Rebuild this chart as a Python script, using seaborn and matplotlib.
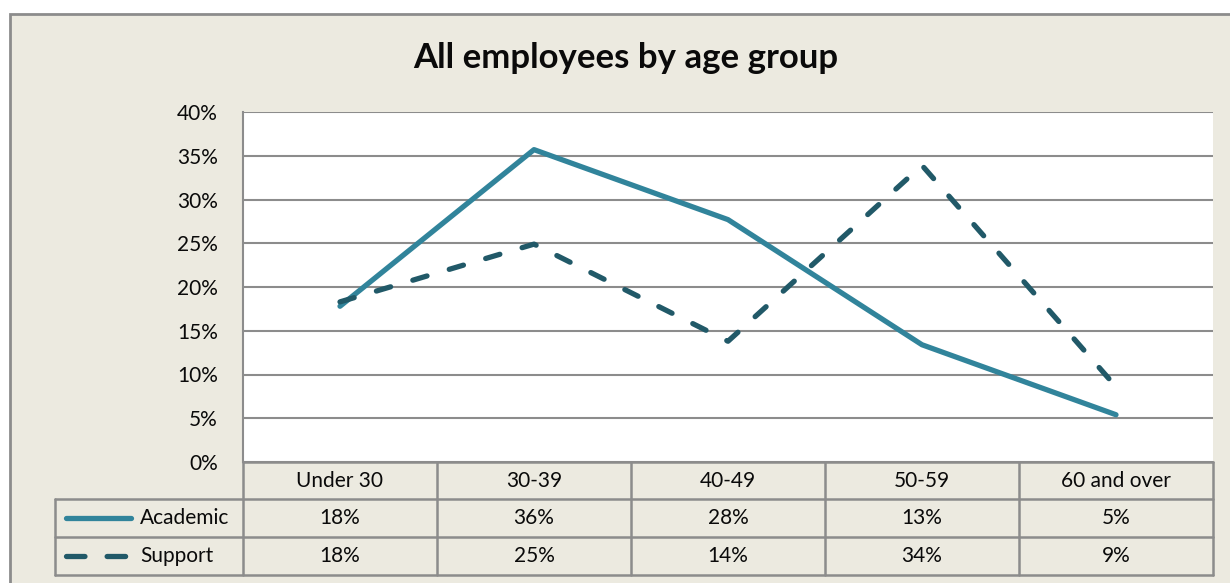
import pandas as pd
import matplotlib.pyplot as plt
from matplotlib.lines import Line2D
from matplotlib.patches import Rectangle
from matplotlib.ticker import PercentFormatter
import seaborn as sns

categories = ['Under 30', '30-39', '40-49', '50-59', '60 and over']
academic = [17.8, 35.7, 27.7, 13.4, 5.4]
support = [18.3, 24.9, 13.8, 33.9, 8.6]
academic_labels = ['18%', '36%', '28%', '13%', '5%']
support_labels = ['18%', '25%', '14%', '34%', '9%']
series = ['Academic', 'Support']
colors = {'Academic': '#31849B', 'Support': '#215968'}

df = pd.DataFrame({
    'age': categories * 2,
    'pos': list(range(len(categories))) * 2,
    'value': academic + support,
    'group': ['Academic'] * 5 + ['Support'] * 5,
})

sns.set_style('white')
plt.rcParams['font.family'] = ['Lato', 'DejaVu Sans']

W, H = 1230, 583
bg = '#ECEAE0'
edge = '#8C8C8C'
txt = '#0A0A0A'
fs = 15
dash = (2.8, 4.4)

def fx(px):
    return px / W

def fy(py):
    return 1 - py / H

fig = plt.figure(figsize=(12.3, 5.83), dpi=100)
fig.patch.set_facecolor('white')

# chart frame
fig.add_artist(Rectangle((fx(10), fy(600)), fx(1240) - fx(10), fy(14) - fy(600),
                         transform=fig.transFigure, facecolor=bg, edgecolor=edge,
                         linewidth=2, zorder=0))

left, right, top, bottom = 243, 1213, 112, 462
ax = fig.add_axes([fx(left), fy(bottom), fx(right) - fx(left), fy(top) - fy(bottom)])
ax.set_facecolor('white')

sns.lineplot(data=df, x='pos', y='value', hue='group', style='group',
             palette=colors, dashes={'Academic': '', 'Support': dash},
             linewidth=3.8, legend=False, ax=ax, zorder=3)
for line in ax.lines:
    line.set_dash_capstyle('round')
    line.set_solid_capstyle('round')

ax.set_xlim(-0.5, 4.5)
ax.set_ylim(0, 40)
ax.set_yticks(range(0, 41, 5))
ax.yaxis.set_major_formatter(PercentFormatter(decimals=0))
ax.set_xticks([])
ax.set_xlabel('')
ax.set_ylabel('')
ax.grid(axis='y', color='#8C8C8C', linewidth=1.5)
ax.set_axisbelow(True)
ax.tick_params(axis='y', labelsize=fs, pad=18, length=0, labelcolor=txt)
for side in ['top', 'right', 'bottom']:
    ax.spines[side].set_visible(False)
ax.spines['left'].set_color(edge)
ax.spines['left'].set_linewidth(1.5)

fig.text(fx(626), fy(58), 'All employees by age group', ha='center', va='center',
         fontsize=25, fontweight='bold', color=txt)

# data table
col_x = [243, 437, 631, 825, 1019, 1213]
lw = 1.8

def hline(x0, x1, y):
    fig.add_artist(Line2D([fx(x0), fx(x1)], [fy(y), fy(y)], transform=fig.transFigure,
                          color=edge, linewidth=lw))

def vline(x, y0, y1):
    fig.add_artist(Line2D([fx(x), fx(x)], [fy(y0), fy(y1)], transform=fig.transFigure,
                          color=edge, linewidth=lw))

hline(243, 1213, 462)
hline(55, 1213, 499)
hline(55, 1213, 537)
hline(55, 1213, 575)
for x in col_x:
    vline(x, 462, 575)
vline(55, 499, 575)

for i, cat in enumerate(categories):
    cx = (col_x[i] + col_x[i + 1]) / 2
    fig.text(fx(cx), fy(481), cat, ha='center', va='center', fontsize=fs, color=txt)
    fig.text(fx(cx), fy(518), academic_labels[i], ha='center', va='center', fontsize=fs, color=txt)
    fig.text(fx(cx), fy(556), support_labels[i], ha='center', va='center', fontsize=fs, color=txt)

# legend keys inside the table
key_a = Line2D([fx(66), fx(131)], [fy(518), fy(518)], transform=fig.transFigure,
               color=colors['Academic'], linewidth=3.8, solid_capstyle='round')
key_s = Line2D([fx(66), fx(126)], [fy(556), fy(556)], transform=fig.transFigure,
               color=colors['Support'], linewidth=3.8, dashes=(3.5, 4.2), dash_capstyle='round')
fig.add_artist(key_a)
fig.add_artist(key_s)
fig.text(fx(140), fy(518), 'Academic', ha='left', va='center', fontsize=fs, color=txt)
fig.text(fx(140), fy(556), 'Support', ha='left', va='center', fontsize=fs, color=txt)

fig.savefig('out.png', dpi=100, facecolor=fig.get_facecolor())
